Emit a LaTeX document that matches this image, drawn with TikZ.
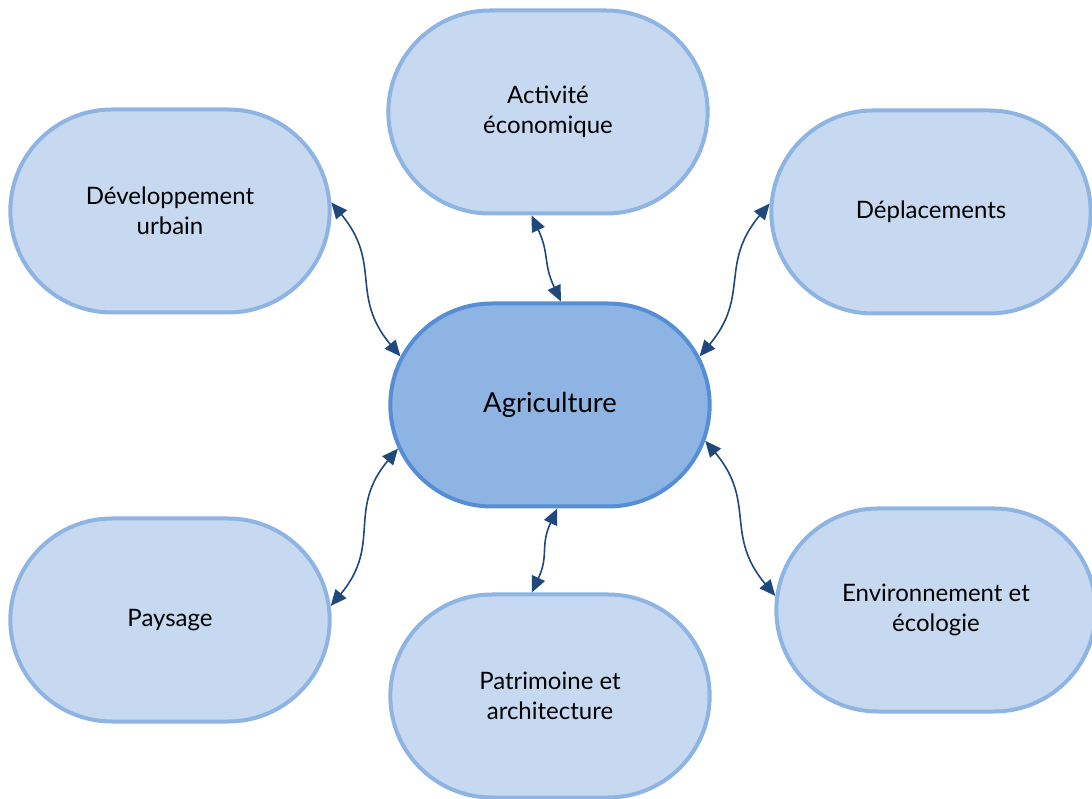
\documentclass[tikz,border=0pt]{standalone}
\usepackage{fontspec}
\setmainfont{Lato}
\usetikzlibrary{shapes.misc,arrows.meta}

\definecolor{topicfill}{HTML}{C6D9F1}
\definecolor{topicline}{HTML}{8DB4E2}
\definecolor{corefill}{HTML}{8EB4E3}
\definecolor{coreline}{HTML}{558ED5}
\definecolor{linkblue}{HTML}{1F497D}

\begin{document}
\begin{tikzpicture}[x=1pt,y=1pt]
  \useasboundingbox (0,0) rectangle (1092,798);
  \begin{scope}[
    every node/.style={
      rounded rectangle,
      draw=topicline,
      fill=topicfill,
      line width=4pt,
      minimum width=326pt,
      minimum height=203pt,
      align=center,
      font=\fontsize{24}{30}\selectfont,
    },
    ]
    \node (agri) at (550,393)
    [fill=corefill, draw=coreline, font=\fontsize{27.5}{32}\selectfont] {Agriculture};
    \node (activite)    at (548,686) {Activité\\économique};
    \node (developpement) at (170,587) {Développement\\urbain};
    \node (deplacements) at (931,586) {Déplacements};
    \node (paysage)     at (170,178) {Paysage};
    \node (patrimoine)  at (550,102) {Patrimoine et\\architecture};
    \node (environnement) at (936,188) {Environnement et\\écologie};
  \end{scope}
  \begin{scope}[every path/.style={draw=linkblue, line width=1.6pt,
      >={Triangle[length=16pt,width=14pt]}, <->, looseness=1.2}]
    \path (developpement.3) to[out=-50,in=130] (agri.162);
    \path (activite.261)    to[out=-65,in=115] (agri.84);
    \path (deplacements.177) to[out=-130,in=50] (agri.18);
    \path (paysage.5)       to[out=50,in=-130] (agri.196);
    \path (patrimoine.100)  to[out=65,in=-115] (agri.274);
    \path (environnement.175) to[out=130,in=-50] (agri.347);
  \end{scope}
\end{tikzpicture}
\end{document}
